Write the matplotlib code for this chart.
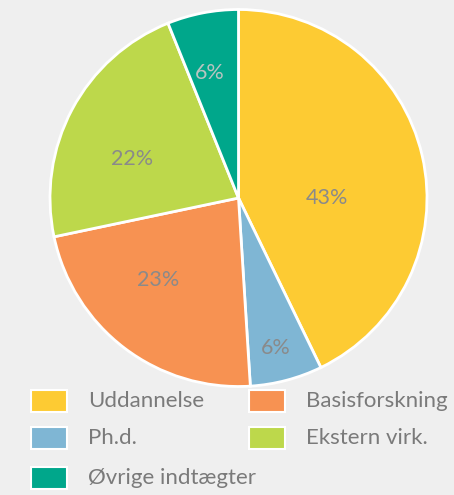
import matplotlib.pyplot as plt
from matplotlib.patches import Rectangle
import numpy as np

# Slice data, clockwise from the top
categories = ['Uddannelse', 'Ph.d.', 'Basisforskning', 'Ekstern virk.', 'Øvrige indtægter']
shares = [42.8, 6.2, 22.7, 22.2, 6.1]
pct_labels = ['43%', '6%', '23%', '22%', '6%']

colors = ['#fdcb33', '#7fb6d4', '#f79252', '#bdd84b', '#00a78b']
label_colors = ['#8a8a8a', '#8a8a8a', '#8a8a8a', '#8a8a8a', '#b8c4c0']
label_radius = [0.47, 0.82, 0.61, 0.60, 0.68]
label_shift = [13, 1, 7, -8, -2]  # degrees clockwise off the mid angle

plt.rcParams['font.family'] = ['Lato', 'DejaVu Sans']

W, H = 454, 495
fig = plt.figure(figsize=(W / 100, H / 100), dpi=100)
fig.patch.set_facecolor('#efefef')

cx, cy, r = 238.5, 198, 188.5
ax = fig.add_axes([(cx - r) / W, (H - cy - r) / H, 2 * r / W, 2 * r / H])
ax.set_facecolor('#efefef')

wedges, _ = ax.pie(shares, colors=colors, startangle=90, counterclock=False,
                   wedgeprops=dict(edgecolor='white', linewidth=2))
ax.set_xlim(-1, 1)
ax.set_ylim(-1, 1)
ax.set_aspect('equal')
ax.axis('off')

for w, lab, col, rad, sh in zip(wedges, pct_labels, label_colors, label_radius, label_shift):
    ang = np.deg2rad((w.theta1 + w.theta2) / 2 - sh)
    ax.text(rad * np.cos(ang), rad * np.sin(ang), lab, ha='center', va='center',
            fontsize=15.5, color=col)

# legend, laid out by hand in pixel coords (rows go left to right)
slots = [(31, 401), (31, 438), (31, 478), (249, 401), (249, 438)]
order = [0, 1, 4, 2, 3]
for (px, py), i in zip(slots, order):
    fig.add_artist(Rectangle((px / W, (H - py - 11) / H), 36 / W, 22 / H,
                             transform=fig.transFigure, facecolor=colors[i],
                             edgecolor='white', linewidth=1.5))
    fig.text((px + 57) / W, (H - py) / H, categories[i], ha='left', va='center',
             fontsize=16, color='#7a7a7a')

fig.savefig('out.png', dpi=100, facecolor=fig.get_facecolor())
